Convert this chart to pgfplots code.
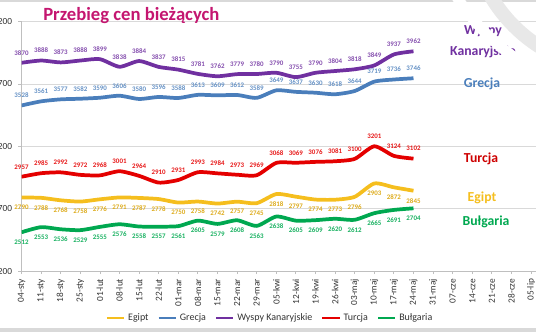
\documentclass[border=0pt]{standalone}
\usepackage{fontspec}
\setmainfont{Carlito}
\usepackage{pgfplots}
\pgfplotsset{compat=1.18}

\definecolor{cEg}{RGB}{245,190,30}
\definecolor{cGr}{RGB}{74,126,187}
\definecolor{cWy}{RGB}{112,48,160}
\definecolor{cTu}{RGB}{228,0,0}
\definecolor{cBu}{RGB}{0,168,80}
\definecolor{cTitle}{RGB}{196,22,112}
\definecolor{cGrid}{RGB}{217,217,217}
\definecolor{cAxis}{RGB}{191,191,191}

\begin{document}
\begin{tikzpicture}[x=0.75pt,y=0.75pt]
\path[use as bounding box] (0,0) rectangle (536,332);
\clip (0,0) rectangle (536,332);
\begin{axis}[
  at={(16.125pt,45.6pt)}, anchor=south west,
  scale only axis, width=396.9pt, height=187.2pt,
  xmin=0, xmax=27, ymin=2200, ymax=4200,
  ytick={2200,2700,3200,3700,4200},
  xtick={0,...,26},
  xticklabels={04-sty,11-sty,18-sty,25-sty,01-lut,08-lut,15-lut,22-lut,01-mar,08-mar,15-mar,22-mar,29-mar,05-kwi,12-kwi,19-kwi,26-kwi,03-maj,10-maj,17-maj,24-maj,31-maj,07-cze,14-cze,21-cze,28-cze,05-lip},
  axis lines=left,
  axis line style={-, draw=cAxis, line width=0.75pt},
  tick align=outside, major tick length=2.25pt,
  tick style={draw=cAxis, line width=0.6pt},
  ymajorgrids, grid style={draw=cGrid, line width=0.7pt},
  yticklabel style={font=\fontsize{7}{8}\selectfont, text=black!80, xshift=-1.2pt},
  xticklabel style={font=\fontsize{7}{8}\selectfont, text=black!80, rotate=90, anchor=east},
  /pgf/number format/1000 sep={},
  /pgf/number format/assume math mode=true,
  every axis plot/.append style={line width=2.8pt, no markers, smooth, tension=0.4, line join=round},
  legend columns=5,
  legend style={at={(0.47,-0.1875)}, anchor=center, draw=none, fill=none,
    font=\fontsize{7.5}{9}\selectfont, text=black!80,
    /tikz/every even column/.append style={column sep=4.5pt}},
  legend image code/.code={\draw[#1, line width=2.2pt] (0cm,0cm) -- (0.45cm,0cm);},
]
\addplot[cEg, nodes near coords,
  every node near coord/.append style={font=\fontsize{5.2}{6}\bfseries\selectfont, text=cEg!90!black, anchor=north, inner sep=1pt, yshift=-3.3pt}]
  coordinates {(0,2790)(1,2788)(2,2768)(3,2758)(4,2776)(5,2791)(6,2787)(7,2778)(8,2750)(9,2758)(10,2742)(11,2757)(12,2745)(13,2818)(14,2797)(15,2774)(16,2773)(17,2796)(18,2903)(19,2872)(20,2845)};
\addlegendentry{Egipt}
\addplot[cGr, nodes near coords,
  every node near coord/.append style={font=\fontsize{5.2}{6}\bfseries\selectfont, text=cGr!85, anchor=south, inner sep=1pt, yshift=3.3pt}]
  coordinates {(0,3528)(1,3561)(2,3577)(3,3582)(4,3590)(5,3606)(6,3580)(7,3596)(8,3588)(9,3613)(10,3609)(11,3612)(12,3589)(13,3649)(14,3637)(15,3630)(16,3618)(17,3644)(18,3719)(19,3736)(20,3746)};
\addlegendentry{Grecja}
\addplot[cWy, nodes near coords,
  every node near coord/.append style={font=\fontsize{5.2}{6}\bfseries\selectfont, text=cWy!85, anchor=south, inner sep=1pt, yshift=3.3pt}]
  coordinates {(0,3870)(1,3888)(2,3873)(3,3888)(4,3899)(5,3838)(6,3884)(7,3837)(8,3815)(9,3781)(10,3762)(11,3779)(12,3780)(13,3790)(14,3755)(15,3790)(16,3804)(17,3818)(18,3849)(19,3937)(20,3962)};
\addlegendentry{Wyspy Kanaryjskie}
\addplot[cTu, nodes near coords,
  every node near coord/.append style={font=\fontsize{5.2}{6}\bfseries\selectfont, text=cTu!90, anchor=south, inner sep=1pt, yshift=3.3pt}]
  coordinates {(0,2957)(1,2985)(2,2992)(3,2972)(4,2968)(5,3001)(6,2964)(7,2910)(8,2931)(9,2993)(10,2984)(11,2973)(12,2969)(13,3068)(14,3069)(15,3076)(16,3081)(17,3100)(18,3201)(19,3124)(20,3102)};
\addlegendentry{Turcja}
\addplot[cBu, nodes near coords,
  every node near coord/.append style={font=\fontsize{5.2}{6}\bfseries\selectfont, text=cBu!90, anchor=north, inner sep=1pt, yshift=-3.3pt}]
  coordinates {(0,2512)(1,2553)(2,2536)(3,2529)(4,2555)(5,2576)(6,2558)(7,2557)(8,2561)(9,2605)(10,2579)(11,2608)(12,2563)(13,2638)(14,2605)(15,2609)(16,2620)(17,2612)(18,2665)(19,2691)(20,2704)};
\addlegendentry{Bułgaria}
\end{axis}
% title and side labels
\node[font=\fontsize{14}{16}\bfseries\selectfont, text=cTitle, anchor=base west, inner sep=0] at (43,311) {Przebieg cen bieżących};
\node[font=\fontsize{10.3}{12}\bfseries\selectfont, text=cWy, inner sep=0] at (483,301) {Wyspy};
\node[font=\fontsize{10.3}{12}\bfseries\selectfont, text=cWy, inner sep=0] at (483,280) {Kanaryjskie};
\node[font=\fontsize{10.3}{12}\bfseries\selectfont, text=cGr, inner sep=0] at (482,248) {Grecja};
\node[font=\fontsize{10.3}{12}\bfseries\selectfont, text=cTu!90!black, inner sep=0] at (481,173) {Turcja};
\node[font=\fontsize{10.3}{12}\bfseries\selectfont, text=cEg, inner sep=0] at (482,134) {Egipt};
\node[font=\fontsize{10.3}{12}\bfseries\selectfont, text=cBu, inner sep=0] at (486,110) {Bułgaria};
% decorations
\draw[gray!30, line width=1.5pt] (0,331) -- (536,331);
\fill[gray!30] (0,0) rectangle (536,4);
\draw[white, line width=8pt] (640,452) circle[radius=163pt];
\draw[gray!18, line width=10.5pt] (620,412) circle[radius=112.5pt];
\end{tikzpicture}
\end{document}
